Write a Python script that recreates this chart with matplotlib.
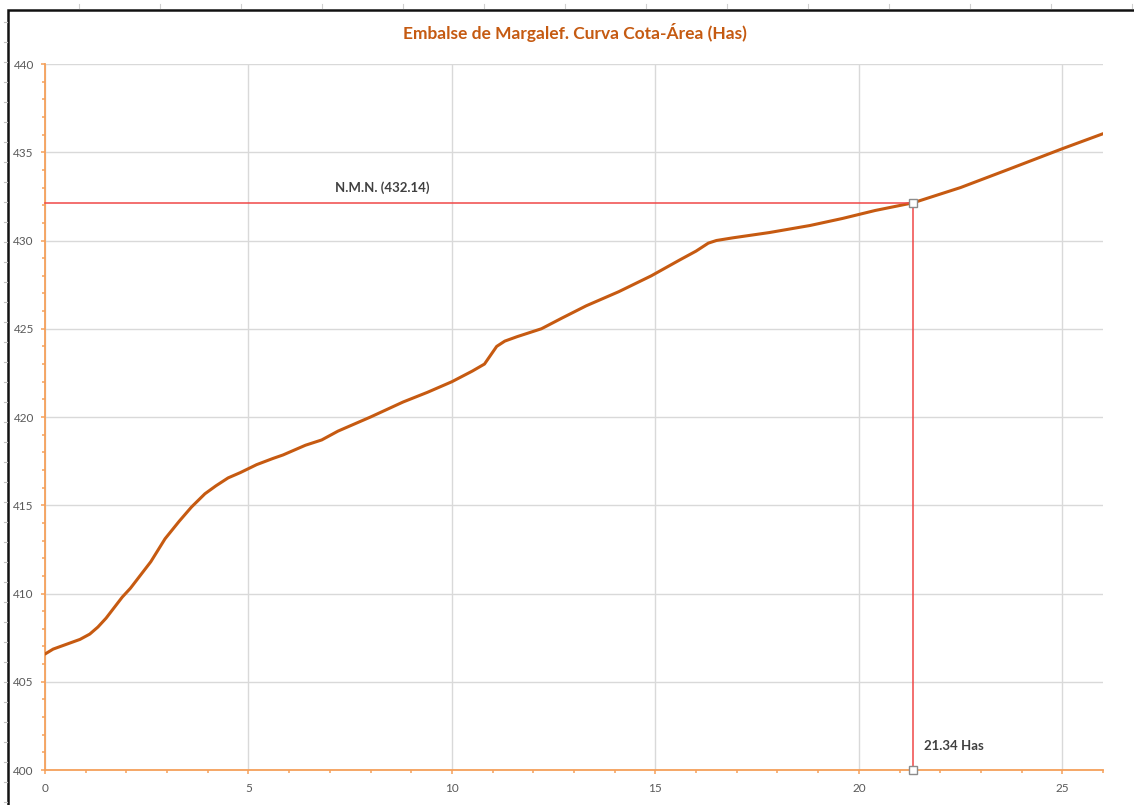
import matplotlib
matplotlib.use("Agg")
import matplotlib.pyplot as plt
from matplotlib.lines import Line2D
from matplotlib.patches import Rectangle
from matplotlib.ticker import MultipleLocator

# Area (Has) vs elevation (m) for the Margalef reservoir
area_has = [0.00, 0.20, 0.50, 0.86, 1.10, 1.30, 1.50, 1.70, 1.90, 2.10,
            2.30, 2.60, 2.95, 3.30, 3.60, 3.93, 4.20, 4.50, 4.80, 5.20,
            5.60, 5.85, 6.10, 6.40, 6.80, 7.20, 8.00, 8.80, 9.40, 10.00,
            10.50, 10.80, 10.95, 11.10, 11.30, 11.60, 12.20, 12.70, 13.30,
            14.10, 14.90, 15.60, 16.00, 16.30, 16.50, 16.90, 17.80, 18.80,
            19.60, 20.40, 21.34, 22.50, 23.70, 25.00, 26.00]
cota_m = [406.57, 406.85, 407.10, 407.40, 407.70, 408.10, 408.60, 409.20,
          409.80, 410.30, 410.90, 411.80, 413.10, 414.10, 414.90, 415.65,
          416.10, 416.55, 416.85, 417.30, 417.65, 417.85, 418.10, 418.40,
          418.70, 419.20, 420.00, 420.85, 421.40, 422.00, 422.60, 423.00,
          423.50, 424.00, 424.30, 424.55, 425.00, 425.60, 426.30, 427.10,
          428.00, 428.90, 429.40, 429.85, 430.00, 430.15, 430.45, 430.85,
          431.25, 431.70, 432.14, 433.00, 434.05, 435.20, 436.05]

nmn_cota = 432.14
nmn_area = 21.34
title = "Embalse de Margalef. Curva Cota-Área (Has)"
nmn_label = "N.M.N. (432.14)"
area_label = "21.34 Has"

W, H = 1134, 805
fig = plt.figure(figsize=(W / 100, H / 100), dpi=100)
fig.patch.set_facecolor("white")

font = ["Lato", "DejaVu Sans"]
axis_col = "#F5A05A"
curve_col = "#C65A11"
red = "#F04848"

ax = fig.add_axes([45 / W, 1 - 770 / H, (1103 - 45) / W, (770 - 64) / H])
ax.set_xlim(0, 26)
ax.set_ylim(400, 440)

ax.xaxis.set_major_locator(MultipleLocator(5))
ax.xaxis.set_minor_locator(MultipleLocator(1))
ax.yaxis.set_major_locator(MultipleLocator(5))
ax.yaxis.set_minor_locator(MultipleLocator(1))
ax.grid(True, which="major", color="#D9D9D9", linewidth=1.0)
ax.set_axisbelow(True)

for s in ("top", "right"):
    ax.spines[s].set_visible(False)
for s in ("left", "bottom"):
    ax.spines[s].set_color(axis_col)
    ax.spines[s].set_linewidth(1.3)

ax.tick_params(which="major", direction="out", length=3, width=1.1,
               color=axis_col, labelsize=8.5, labelcolor="#595959")
ax.tick_params(which="minor", direction="out", length=2.5, width=1.1,
               color=axis_col)
ax.tick_params(axis="x", which="major", pad=6)
ax.tick_params(axis="y", which="major", pad=5)
for lab in ax.get_xticklabels() + ax.get_yticklabels():
    lab.set_family(font)

# elevation-area curve
ax.plot(area_has, cota_m, color=curve_col, linewidth=2.2, zorder=3,
        solid_capstyle="round", solid_joinstyle="round")

# normal maximum level guides
ax.plot([0, nmn_area, nmn_area], [nmn_cota, nmn_cota, 400], color=red,
        linewidth=1.1, zorder=4, clip_on=False)
ax.plot([nmn_area, nmn_area], [nmn_cota, 400], linestyle="none", marker="s",
        markersize=6, markerfacecolor="white", markeredgecolor="#8C8C8C",
        markeredgewidth=1.0, zorder=5, clip_on=False)

ax.text(8.3, nmn_cota + 0.5, nmn_label, ha="center", va="bottom",
        fontsize=9.5, fontweight="bold", color="#404040", family=font)
ax.text(21.6, 401.0, area_label, ha="left", va="bottom",
        fontsize=9.5, fontweight="bold", color="#404040", family=font)

fig.text(575 / W, 1 - 32 / H, title, ha="center", va="center",
         fontsize=12.5, fontweight="bold", color="#C55A11", family=font)

# chart frame, running off the right and bottom edges
fig.patches.append(Rectangle((8 / W, -0.1), 1.2, (1 - 10 / H) + 0.1,
                             transform=fig.transFigure, fill=False,
                             edgecolor="#111111", linewidth=1.8))

# faint sheet grid ticks outside the frame
for px in range(79, W, 81):
    fig.add_artist(Line2D([px / W, px / W], [1 - 4 / H, 1 - 8 / H],
                          transform=fig.transFigure, color="#D0D0D0", lw=0.8))
for py in range(22, H, 20):
    fig.add_artist(Line2D([4 / W, 7 / W], [1 - py / H, 1 - py / H],
                          transform=fig.transFigure, color="#C0C0C0", lw=0.8))

fig.savefig("out.png", dpi=100, facecolor="white")
